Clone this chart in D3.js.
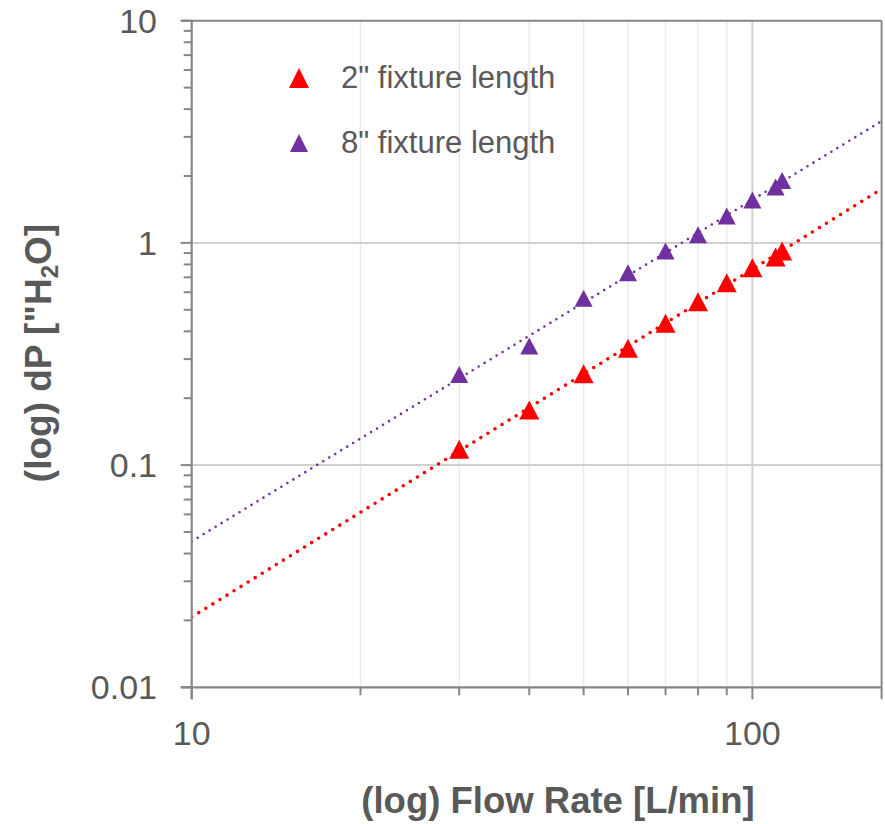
<!DOCTYPE html>
<html>
<head>
<meta charset="utf-8">
<script src="https://cdn.jsdelivr.net/npm/d3@7"></script>
<style>
  html, body { margin: 0; padding: 0; background: #fff; }
  svg { display: block; }
  text { font-family: "Liberation Sans", Arial, sans-serif; fill: #595959; }
</style>
</head>
<body>
<svg id="chart" width="885" height="824"></svg>
<script>
// ---- data ----
const seriesNames = ['2" fixture length', '8" fixture length'];
const seriesColors = ["#FF0000", "#7030A0"];
const flow2 = [30, 40, 50, 60, 70, 80, 90, 100, 110, 113];
const dp2   = [0.118, 0.177, 0.258, 0.336, 0.435, 0.543, 0.661, 0.772, 0.865, 0.92];
const flow8 = [30, 40, 50, 60, 70, 80, 90, 100, 110, 113];
const dp8   = [0.256, 0.344, 0.563, 0.733, 0.92, 1.087, 1.32, 1.56, 1.786, 1.91];
const xTickLabels = ["10", "100"];
const yTickLabels = ["0.01", "0.1", "1", "10"];
const xDomain = [10, 170];
const yDomain = [0.01, 10];

// ---- layout ----
const L = 191.7, R = 881.6, T = 20.7, B = 687.3;
const svg = d3.select("#chart");
const x = d3.scaleLog().domain(xDomain).range([L, R]);
const y = d3.scaleLog().domain(yDomain).range([B, T]);

const axisColor = "#868686";

const xMinor = [];
for (let d = 10; d < 1000; d *= 10) for (let k = 2; k <= 9; k++) { const v = k * d; if (v > xDomain[0] && v < xDomain[1]) xMinor.push(v); }
const xMajor = xTickLabels.map(Number);
const yMajor = yTickLabels.map(Number);
const yMinor = [];
for (let d = 0.01; d < 10; d *= 10) for (let k = 2; k <= 9; k++) yMinor.push(+(k * d).toPrecision(3));

const g = svg.append("g");
g.selectAll(".xminor").data(xMinor).enter().append("line")
  .attr("x1", d => x(d)).attr("x2", d => x(d)).attr("y1", T).attr("y2", B)
  .attr("stroke", "#EBEBEB").attr("stroke-width", 1.5);
g.selectAll(".xmaj").data(xMajor.filter(v => v > xDomain[0])).enter().append("line")
  .attr("x1", d => x(d)).attr("x2", d => x(d)).attr("y1", T).attr("y2", B)
  .attr("stroke", "#D0D0D0").attr("stroke-width", 2);
g.selectAll(".ymaj").data(yMajor.filter(v => v > yDomain[0] && v < yDomain[1])).enter().append("line")
  .attr("x1", L).attr("x2", R).attr("y1", d => y(d)).attr("y2", d => y(d))
  .attr("stroke", "#D0D0D0").attr("stroke-width", 2);

// trend lines (power regression in log space)
function powerFit(xs, ys) {
  const lx = xs.map(Math.log10), ly = ys.map(Math.log10);
  const n = lx.length, mx = d3.mean(lx), my = d3.mean(ly);
  let sxy = 0, sxx = 0;
  for (let i = 0; i < n; i++) { sxy += (lx[i] - mx) * (ly[i] - my); sxx += (lx[i] - mx) ** 2; }
  const b = sxy / sxx, a = my - b * mx;
  return v => Math.pow(10, a + b * Math.log10(v));
}
const series = [
  { name: seriesNames[0], color: seriesColors[0], xs: flow2, ys: dp2, w: 20, h: 19, lw: 3.6, dash: "0 8.3" },
  { name: seriesNames[1], color: seriesColors[1], xs: flow8, ys: dp8, w: 18, h: 17, lw: 2.6, dash: "0 7" }
];
svg.append("defs").append("clipPath").attr("id", "plotclip")
  .append("rect").attr("x", L).attr("y", T).attr("width", R - L).attr("height", B - T);

series.forEach(s => {
  const f = powerFit(s.xs, s.ys);
  const pts = d3.range(0, 101).map(i => {
    const v = Math.pow(10, Math.log10(xDomain[0]) + i / 100 * (Math.log10(xDomain[1]) - Math.log10(xDomain[0])));
    return [x(v), y(f(v))];
  });
  svg.append("path").attr("d", d3.line()(pts)).attr("fill", "none")
    .attr("stroke", s.color).attr("stroke-width", s.lw)
    .attr("stroke-dasharray", s.dash).attr("stroke-linecap", "round")
    .attr("clip-path", "url(#plotclip)");
});

function tri(cx, cy, w, h) {
  return `M${cx},${cy - h / 2}L${cx + w / 2},${cy + h / 2}L${cx - w / 2},${cy + h / 2}Z`;
}
series.forEach(s => {
  svg.append("g").selectAll("path").data(s.xs.map((v, i) => [v, s.ys[i]])).enter().append("path")
    .attr("d", d => tri(x(d[0]), y(d[1]), s.w, s.h))
    .attr("fill", s.color);
});

// axes
const ax = svg.append("g");
ax.append("line").attr("x1", L - 11).attr("x2", R).attr("y1", T).attr("y2", T).attr("stroke", axisColor).attr("stroke-width", 2);
ax.append("line").attr("x1", R).attr("x2", R).attr("y1", T).attr("y2", B + 12).attr("stroke", axisColor).attr("stroke-width", 2);
ax.append("line").attr("x1", L).attr("x2", L).attr("y1", T).attr("y2", B + 12).attr("stroke", axisColor).attr("stroke-width", 2.2);
ax.append("line").attr("x1", L - 11).attr("x2", R).attr("y1", B).attr("y2", B).attr("stroke", axisColor).attr("stroke-width", 2.2);
ax.selectAll(".ytm").data(yMajor).enter().append("line")
  .attr("x1", L - 11).attr("x2", L).attr("y1", d => y(d)).attr("y2", d => y(d))
  .attr("stroke", axisColor).attr("stroke-width", 2);
ax.selectAll(".ytn").data(yMinor).enter().append("line")
  .attr("x1", L - 8).attr("x2", L).attr("y1", d => y(d)).attr("y2", d => y(d))
  .attr("stroke", axisColor).attr("stroke-width", 2);
ax.selectAll(".xtm").data(xMajor).enter().append("line")
  .attr("x1", d => x(d)).attr("x2", d => x(d)).attr("y1", B).attr("y2", B + 12)
  .attr("stroke", axisColor).attr("stroke-width", 2);
ax.selectAll(".xtn").data(xMinor).enter().append("line")
  .attr("x1", d => x(d)).attr("x2", d => x(d)).attr("y1", B).attr("y2", B + 8)
  .attr("stroke", axisColor).attr("stroke-width", 2);

// tick labels
svg.selectAll(".ylab").data(yTickLabels).enter().append("text")
  .attr("x", 157).attr("y", d => y(+d)).attr("dy", "0.35em")
  .attr("text-anchor", "end").attr("font-size", 34).text(d => d);
svg.selectAll(".xlab").data(xTickLabels).enter().append("text")
  .attr("x", d => x(+d)).attr("y", 745)
  .attr("text-anchor", "middle").attr("font-size", 34).text(d => d);

// axis titles
svg.append("text").attr("x", 558).attr("y", 813).attr("text-anchor", "middle")
  .attr("font-size", 36.5).attr("font-weight", "bold").text("(log) Flow Rate [L/min]");
const yt = svg.append("text").attr("transform", "translate(51,353) rotate(-90)")
  .attr("text-anchor", "middle").attr("font-size", 37).attr("font-weight", "bold");
yt.append("tspan").text('(log) dP ["H');
yt.append("tspan").attr("font-size", 24).attr("dy", 7).text("2");
yt.append("tspan").attr("dy", -7).text("O]");

// legend
const legY = [78, 143];
series.forEach((s, i) => {
  svg.append("path").attr("d", tri(299, legY[i], i === 0 ? 20 : 18, i === 0 ? 20 : 18)).attr("fill", s.color);
  svg.append("text").attr("x", 341).attr("y", legY[i] + 10).attr("font-size", 31).text(s.name);
});
</script>
</body>
</html>
